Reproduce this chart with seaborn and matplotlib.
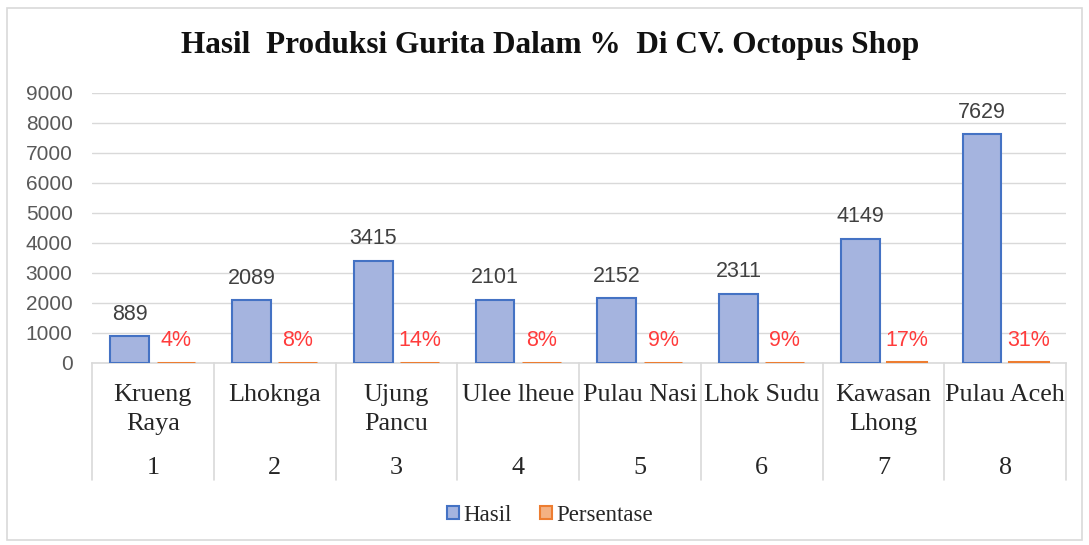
import matplotlib
matplotlib.use("Agg")
import matplotlib.pyplot as plt
import matplotlib.transforms as mtransforms
from matplotlib.patches import Patch, Rectangle
import pandas as pd
import seaborn as sns

# data
lokasi = ["Krueng\nRaya", "Lhoknga", "Ujung\nPancu", "Ulee lheue", "Pulau Nasi",
          "Lhok Sudu", "Kawasan\nLhong", "Pulau Aceh"]
nomor = ["1", "2", "3", "4", "5", "6", "7", "8"]
hasil = [889, 2089, 3415, 2101, 2152, 2311, 4149, 7629]
persentase = [4, 8, 14, 8, 9, 9, 17, 31]
y_ticks = [0, 1000, 2000, 3000, 4000, 5000, 6000, 7000, 8000, 9000]

rows = []
for n, h, p in zip(nomor, hasil, persentase):
    rows.append({"No": n, "Seri": "Hasil", "Nilai": h})
    rows.append({"No": n, "Seri": "Persentase", "Nilai": p})
df = pd.DataFrame(rows)

sns.set_style("white")
plt.rcParams["font.family"] = ["Liberation Serif", "DejaVu Serif"]

fig = plt.figure(figsize=(10.89, 5.45), dpi=100)
ax = fig.add_axes([92 / 1089, 1 - 363 / 545, (1066 - 92) / 1089, 270 / 545])

blue_edge, blue_fill = "#4472c4", "#a5b4df"
orange_edge, orange_fill = "#ed7d31", "#f4b183"

sns.barplot(data=df, x="No", y="Nilai", hue="Seri", order=nomor,
            hue_order=["Hasil", "Persentase"], width=0.76, gap=0.16,
            palette=[blue_fill, orange_fill], saturation=1, legend=False, ax=ax)

for bar, name in zip(ax.patches, ["Hasil"] * 8 + ["Persentase"] * 8):
    bar.set_zorder(3)
    if name == "Hasil":
        bar.set_edgecolor(blue_edge)
        bar.set_linewidth(1.5)
    else:
        bar.set_edgecolor(orange_edge)
        bar.set_linewidth(2.2)

# data labels
for cont, fmt, color in zip(ax.containers, ["{:.0f}", "{:.0f}%"], ["#404040", "#ff3b3b"]):
    for bar in cont:
        v = bar.get_height()
        ax.annotate(fmt.format(v), (bar.get_x() + bar.get_width() / 2, v),
                    xytext=(0, 22), textcoords="offset pixels", ha="center", va="center",
                    fontsize=15.5, color=color, family=["Liberation Sans", "DejaVu Sans"])

ax.set_ylim(0, 9000)
ax.set_xlim(-0.5, 7.5)
ax.set_yticks(y_ticks)
ax.set_yticklabels([str(t) for t in y_ticks], color="#595959", fontsize=15,
                   family=["Liberation Sans", "DejaVu Sans"])
ax.tick_params(axis="y", length=0, pad=14)
ax.set_xticks([])
ax.set_xlabel("")
ax.set_ylabel("")
ax.grid(axis="y", color="#d9d9d9", lw=1)
ax.set_axisbelow(True)
for s in ["left", "right", "top"]:
    ax.spines[s].set_visible(False)
ax.spines["bottom"].set_color("#d9d9d9")
ax.spines["bottom"].set_linewidth(1.2)
ax.spines["bottom"].set_zorder(1)

# multi-level category axis
trans = mtransforms.blended_transform_factory(ax.transData, ax.transAxes)
for i in range(len(nomor) + 1):
    ax.plot([i - 0.5, i - 0.5], [0, -0.433], transform=trans, color="#d9d9d9",
            lw=1.2, clip_on=False)
for i, (name, n) in enumerate(zip(lokasi, nomor)):
    ax.text(i, -0.077, name, transform=trans, ha="center", va="top", fontsize=18.8,
            color="#262626", linespacing=1.4)
    ax.text(i, -0.389, n, transform=trans, ha="center", va="center", fontsize=18.8,
            color="#262626")

fig.suptitle("Hasil  Produksi Gurita Dalam %  Di CV. Octopus Shop", x=0.505, y=0.917,
             va="center", fontsize=22.5, fontweight="bold", color="#111111")

handles = [Patch(facecolor=blue_fill, edgecolor=blue_edge, lw=1.5),
           Patch(facecolor=orange_fill, edgecolor=orange_edge, lw=1.5)]
fig.legend(handles, ["Hasil", "Persentase"], loc="center", bbox_to_anchor=(0.505, 0.055),
           ncol=2, frameon=False, fontsize=16.5, handlelength=0.55, handleheight=0.55,
           handletextpad=0.2, columnspacing=1.2)

# chart border
fig.patches.append(Rectangle((7 / 1089, 5 / 545), 1075 / 1089, 532 / 545,
                             transform=fig.transFigure, fill=False,
                             edgecolor="#d9d9d9", lw=1.2))

fig.savefig("out.png", dpi=100)
